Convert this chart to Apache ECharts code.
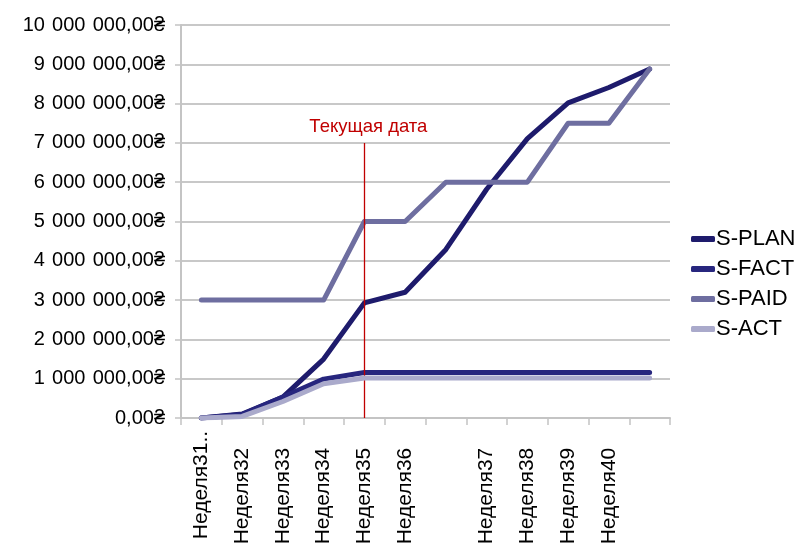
<!DOCTYPE html>
<html>
<head>
<meta charset="utf-8">
<script src="https://cdn.jsdelivr.net/npm/echarts@6/dist/echarts.min.js"></script>
<style>
html,body{margin:0;padding:0;background:#fff;}
#chart{width:798px;height:544px;}
</style>
</head>
<body>
<div id="chart"></div>
<script>
const categories = ['Неделя31..', 'Неделя32', 'Неделя33', 'Неделя34', 'Неделя35', 'Неделя36', '', 'Неделя37', 'Неделя38', 'Неделя39', 'Неделя40', ''];
const seriesNames = ['S-PLAN', 'S-FACT', 'S-PAID', 'S-ACT'];
const planValues = [0, 100000, 530000, 1500000, 2930000, 3200000, 4290000, 5820000, 7110000, 8020000, 8410000, 8880000];
const factValues = [0, 90000, 530000, 990000, 1160000, 1160000, 1160000, 1160000, 1160000, 1160000, 1160000, 1160000];
const paidValues = [3000000, 3000000, 3000000, 3000000, 5000000, 5000000, 6000000, 6000000, 6000000, 7500000, 7500000, 8880000];
const actValues = [0, 40000, 420000, 870000, 1020000, 1020000, 1020000, 1020000, 1020000, 1020000, 1020000, 1020000];
const yMin = 0, yMax = 10000000, yInterval = 1000000;
const currentDateLabel = 'Текущая дата';
const currentDateCategory = 'Неделя35';
const currentDateTop = 7000000;

const colors = ['#1e1b6c', '#27267e', '#6e6ea0', '#aaaacb'];
const FONT = 'Liberation Sans, Arial, sans-serif';

function fmtMoney(v) {
  const s = Math.round(v).toString().replace(/\B(?=(\d{3})+(?!\d))/g, ' \u200A');
  return s + ',00\u20B4';
}

const valueLists = [planValues, factValues, paidValues, actValues];
const series = seriesNames.map((name, i) => ({
  name: name,
  type: 'line',
  data: valueLists[i],
  showSymbol: false,
  symbol: 'none',
  lineStyle: { width: 5, color: colors[i], cap: 'round', join: 'round' },
  itemStyle: { color: colors[i] },
  z: 2 + i
}));
series[series.length - 1].markLine = {
  silent: true,
  symbol: ['none', 'none'],
  animation: false,
  lineStyle: { color: '#c00000', width: 1.3, type: 'solid' },
  label: {
    show: true, position: 'end', formatter: currentDateLabel,
    color: '#c00000', fontSize: 18.5, fontFamily: FONT, distance: 6,
    padding: [0, 0, 0, 8]
  },
  data: [[{ xAxis: currentDateCategory, yAxis: 0 }, { xAxis: currentDateCategory, yAxis: currentDateTop }]]
};

const chart = echarts.init(document.getElementById('chart'), null, { renderer: 'canvas' });
chart.setOption({
  animation: false,
  backgroundColor: '#fff',
  textStyle: { fontFamily: FONT },
  grid: { left: 181, right: 128, top: 25, bottom: 126, containLabel: false, outerBoundsMode: 'none' },
  legend: {
    orient: 'vertical', left: 686, top: 223,
    itemWidth: 24, itemHeight: 6, itemGap: 8,
    icon: 'roundRect',
    textStyle: { fontSize: 22, color: '#000', fontFamily: FONT, lineHeight: 22, padding: [0, 0, 0, -4] },
    data: seriesNames
  },
  xAxis: {
    type: 'category',
    data: categories,
    boundaryGap: true,
    axisLine: { lineStyle: { color: '#c4c4c4', width: 2 } },
    axisTick: { show: true, length: 7, lineStyle: { color: '#c4c4c4', width: 1.5 }, interval: 0 },
    axisLabel: {
      interval: 0, rotate: 90, align: 'center', verticalAlign: 'middle',
      margin: 78, fontSize: 21, color: '#000', fontFamily: FONT,
      formatter: function (v, idx) { return idx === 0 ? '{f|' + v + '}' : v; },
      rich: { f: { fontSize: 21, color: '#000', fontFamily: FONT, padding: [0, 0, 0, 22] } }
    },
    splitLine: { show: false }
  },
  yAxis: {
    type: 'value',
    min: yMin, max: yMax, interval: yInterval,
    axisLine: { show: true, lineStyle: { color: '#c4c4c4', width: 2 } },
    axisTick: { show: true, length: 6, lineStyle: { color: '#c4c4c4', width: 1.5 } },
    axisLabel: { margin: 16, fontSize: 20, color: '#000', fontFamily: FONT, formatter: fmtMoney },
    splitLine: { show: true, lineStyle: { color: '#c8c8c8', width: 2 } }
  },
  series: series
});
</script>
</body>
</html>
